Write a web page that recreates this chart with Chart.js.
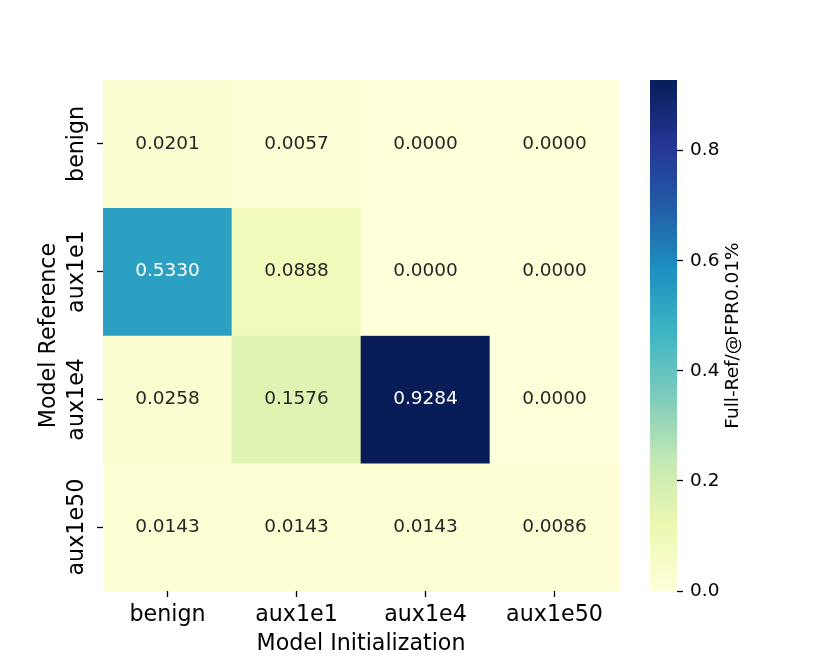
<!DOCTYPE html>
<html>
<head>
<meta charset="utf-8">
<script src="https://cdn.jsdelivr.net/npm/chart.js@4.4.0/dist/chart.umd.min.js"></script>
<style>
  html, body { margin: 0; padding: 0; background: #fff; }
  #wrap { position: relative; width: 830px; height: 664px; }
  #wrap canvas { position: absolute; left: 0; top: 0; }
</style>
</head>
<body>
<div id="wrap">
  <canvas id="heatmap" width="830" height="664"></canvas>
  <canvas id="colorbar" width="830" height="664"></canvas>
</div>
<script>
// Data
const initLabels = ['benign', 'aux1e1', 'aux1e4', 'aux1e50'];   // columns: Model Initialization
const refLabels = ['benign', 'aux1e1', 'aux1e4', 'aux1e50'];    // rows: Model Reference
const rowBenign = [0.0201, 0.0057, 0.0000, 0.0000];
const rowAux1e1 = [0.5330, 0.0888, 0.0000, 0.0000];
const rowAux1e4 = [0.0258, 0.1576, 0.9284, 0.0000];
const rowAux1e50 = [0.0143, 0.0143, 0.0143, 0.0086];
const colorbarTicks = [0.0, 0.2, 0.4, 0.6, 0.8];

const rows = [rowBenign, rowAux1e1, rowAux1e4, rowAux1e50];
const vmax = Math.max(...rows.flat());

const FONT = 'DejaVu Sans';
const BIG = 22.2;
const SMALL = 18.5;

// YlGnBu colormap
const ylgnbu = ['#ffffd9', '#edf8b1', '#c7e9b4', '#7fcdbb', '#41b6c4', '#1d91c0', '#225ea8', '#253494', '#081d58'];

function hexToRgb(h) {
    const n = parseInt(h.slice(1), 16);
    return [(n >> 16) & 255, (n >> 8) & 255, n & 255];
}

function cmap(v) {
    const t = Math.min(Math.max(v / vmax, 0), 1) * (ylgnbu.length - 1);
    const i = Math.min(Math.floor(t), ylgnbu.length - 2);
    const f = t - i;
    const a = hexToRgb(ylgnbu[i]);
    const b = hexToRgb(ylgnbu[i + 1]);
    return a.map((c, k) => Math.round(c + (b[k] - c) * f));
}

function rgbStr(c) {
    return 'rgb(' + c.join(',') + ')';
}

// same rule seaborn uses to pick annotation colour
function textColorFor(c) {
    const lin = c.map(x => {
        x = x / 255;
        return x <= 0.03928 ? x / 12.92 : Math.pow((x + 0.055) / 1.055, 2.4);
    });
    const lum = 0.2126 * lin[0] + 0.7152 * lin[1] + 0.0722 * lin[2];
    return lum > 0.408 ? '#262626' : '#ffffff';
}

const tickGrid = {
    display: true,
    drawOnChartArea: false,
    drawTicks: true,
    tickLength: 6,
    tickWidth: 1.3,
    tickColor: '#000'
};

// Cell annotations
const annotatePlugin = {
    id: 'annotate',
    afterDatasetsDraw(chart) {
        const ctx = chart.ctx;
        ctx.save();
        ctx.font = SMALL + 'px "' + FONT + '"';
        ctx.textAlign = 'center';
        ctx.textBaseline = 'middle';
        chart.data.datasets.forEach((ds, r) => {
            chart.getDatasetMeta(r).data.forEach((el, c) => {
                const v = ds.values[c];
                ctx.fillStyle = textColorFor(cmap(v));
                ctx.fillText(v.toFixed(4), el.x, (el.y + el.base) / 2);
            });
        });
        ctx.restore();
    }
};

// Rotated row labels on the left
const rowLabelPlugin = {
    id: 'rowLabels',
    afterDraw(chart) {
        const ctx = chart.ctx;
        const yScale = chart.scales.y;
        ctx.save();
        ctx.font = BIG + 'px "' + FONT + '"';
        ctx.fillStyle = '#000';
        ctx.textAlign = 'center';
        ctx.textBaseline = 'middle';
        refLabels.forEach((lab, i) => {
            ctx.save();
            ctx.translate(chart.chartArea.left - 26, yScale.getPixelForValue(i + 0.5));
            ctx.rotate(-Math.PI / 2);
            ctx.fillText(lab, 0, 0);
            ctx.restore();
        });
        ctx.restore();
    }
};

const heatCtx = document.getElementById('heatmap').getContext('2d');
new Chart(heatCtx, {
    type: 'bar',
    data: {
        labels: initLabels,
        datasets: rows.map((row, r) => ({
            label: refLabels[r],
            data: row.map(() => 1),
            values: row,
            backgroundColor: row.map(v => rgbStr(cmap(v))),
            borderWidth: 0,
            barPercentage: 1,
            categoryPercentage: 1,
            stack: 'cells'
        }))
    },
    options: {
        responsive: false,
        animation: false,
        layout: { padding: { left: 0, top: 80, right: 211, bottom: 0 } },
        plugins: {
            legend: { display: false },
            tooltip: { enabled: false }
        },
        scales: {
            x: {
                type: 'category',
                offset: true,
                grid: Object.assign({ offset: false }, tickGrid),
                border: { display: false },
                ticks: {
                    font: { family: FONT, size: BIG },
                    color: '#000',
                    padding: 5,
                    maxRotation: 0
                },
                title: {
                    display: true,
                    text: 'Model Initialization',
                    font: { family: FONT, size: BIG },
                    color: '#000',
                    padding: { top: 0, bottom: 6 }
                },
                afterFit: s => { s.height = 73; }
            },
            y: {
                type: 'linear',
                stacked: true,
                min: 0,
                max: refLabels.length,
                reverse: true,
                afterBuildTicks: s => { s.ticks = refLabels.map((_, i) => ({ value: i + 0.5 })); },
                grid: tickGrid,
                border: { display: false },
                ticks: { display: false },
                title: {
                    display: true,
                    text: 'Model Reference',
                    font: { family: FONT, size: BIG },
                    color: '#000',
                    padding: { top: 36, bottom: 0 }
                },
                afterFit: s => { s.width = 103; }
            }
        }
    },
    plugins: [annotatePlugin, rowLabelPlugin]
});

// Colorbar
const cbTitlePlugin = {
    id: 'cbTitle',
    afterDraw(chart) {
        const ctx = chart.ctx;
        const area = chart.chartArea;
        ctx.save();
        ctx.font = SMALL + 'px "' + FONT + '"';
        ctx.fillStyle = '#000';
        ctx.textAlign = 'center';
        ctx.textBaseline = 'middle';
        ctx.translate(area.right + 56, (area.top + area.bottom) / 2);
        ctx.rotate(-Math.PI / 2);
        ctx.fillText('Full-Ref/@FPR0.01%', 0, 0);
        ctx.restore();
    }
};

const cbCtx = document.getElementById('colorbar').getContext('2d');
new Chart(cbCtx, {
    type: 'bar',
    data: {
        labels: ['scale'],
        datasets: [{
            data: [[0, vmax]],
            backgroundColor: (context) => {
                const chart = context.chart;
                if (!chart.chartArea) return null;
                const y = chart.scales.y;
                const g = chart.ctx.createLinearGradient(0, y.getPixelForValue(0), 0, y.getPixelForValue(vmax));
                ylgnbu.forEach((c, i) => g.addColorStop(i / (ylgnbu.length - 1), c));
                return g;
            },
            borderWidth: 0,
            barPercentage: 1,
            categoryPercentage: 1
        }]
    },
    options: {
        responsive: false,
        animation: false,
        layout: { padding: { left: 650, top: 80, right: 0, bottom: 73 } },
        plugins: {
            legend: { display: false },
            tooltip: { enabled: false }
        },
        scales: {
            x: { display: false },
            y: {
                position: 'right',
                min: 0,
                max: vmax,
                afterBuildTicks: s => { s.ticks = colorbarTicks.map(v => ({ value: v })); },
                grid: tickGrid,
                border: { display: false },
                ticks: {
                    font: { family: FONT, size: SMALL },
                    color: '#000',
                    padding: 7,
                    callback: v => v.toFixed(1)
                },
                afterFit: s => { s.width = 153; }
            }
        }
    },
    plugins: [cbTitlePlugin]
});
</script>
</body>
</html>
